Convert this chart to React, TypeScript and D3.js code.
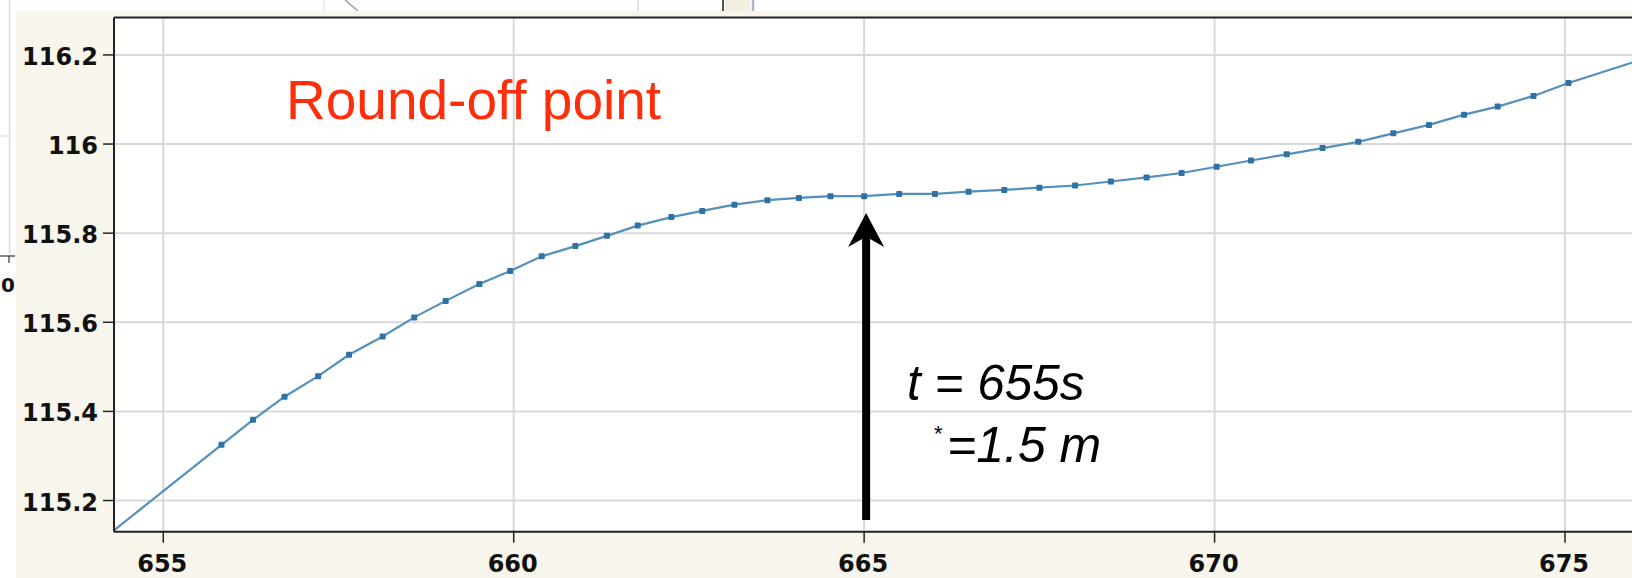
import React from 'react';
import * as d3 from 'd3';

// Water level series around the round-off point (time in s, level in m)
const TIME_S = [
  654.0, 655.83, 656.28, 656.73, 657.21, 657.65, 658.13, 658.58, 659.03, 659.51,
  659.95, 660.4, 660.88, 661.33, 661.77, 662.25, 662.69, 663.15, 663.62, 664.07,
  664.52, 665.0, 665.5, 666.01, 666.49, 667.0, 667.5, 668.01, 668.52, 669.03,
  669.53, 670.03, 670.52, 671.03, 671.54, 672.05, 672.55, 673.06, 673.56, 674.04,
  674.55, 675.05, 676.1,
];
const LEVEL_M = [
  115.096, 115.325, 115.381, 115.433, 115.479, 115.527, 115.568, 115.611, 115.648, 115.686,
  115.715, 115.748, 115.771, 115.794, 115.817, 115.836, 115.85, 115.864, 115.874, 115.879,
  115.883, 115.883, 115.888, 115.888, 115.893, 115.897, 115.902, 115.907, 115.916, 115.925,
  115.935, 115.949, 115.963, 115.977, 115.991, 116.005, 116.024, 116.043, 116.066, 116.084,
  116.108, 116.137, 116.19,
];

const X_TICKS = [655, 660, 665, 670, 675];
const Y_TICKS = [115.2, 115.4, 115.6, 115.8, 116.0, 116.2];
const X_DOMAIN = [654.297, 675.956];
const Y_DOMAIN = [115.13, 116.284];

const TITLE = 'Round-off point';
const NOTE_TIME = 't = 655s';
const NOTE_DEPTH = '=1.5 m';
const ROUND_OFF_T = 665;

const W = 1632;
const H = 578;
const PLOT = { left: 114, top: 17.5, right: 1632, bottom: 531.7 };

const BEIGE = '#f8f6ec';
const GRID = '#d9d9d9';
const LINE = '#5590bb';
const MARKER = '#2f72a3';
const TICK_FONT = '"DejaVu Sans", sans-serif';
const NOTE_FONT = '"Liberation Sans", Arial, Helvetica, sans-serif';

const fmt = (v: number) => String(+v.toFixed(1));

export default function App() {
  const x = d3.scaleLinear().domain(X_DOMAIN).range([PLOT.left, PLOT.right]);
  const y = d3.scaleLinear().domain(Y_DOMAIN).range([PLOT.bottom, PLOT.top]);

  const points = TIME_S.map((t, i) => ({ t, v: LEVEL_M[i] }));
  const linePath = d3
    .line<{ t: number; v: number }>()
    .x((d) => x(d.t))
    .y((d) => y(d.v))(points) as string;

  const visible = points.filter((d) => d.t >= X_DOMAIN[0] && d.t <= X_DOMAIN[1]);

  // annotation arrow under the round-off sample
  const ax = x(ROUND_OFF_T) + 2;
  const tipY = 213;
  const baseY = 520;
  const arrow = [
    `M${ax},${tipY}`,
    `L${ax + 18},${tipY + 34}`,
    `L${ax + 4},${tipY + 26}`,
    `L${ax + 4},${baseY}`,
    `L${ax - 4},${baseY}`,
    `L${ax - 4},${tipY + 26}`,
    `L${ax - 18},${tipY + 34}`,
    'Z',
  ].join(' ');

  return (
    <svg
      width={W}
      height={H}
      viewBox={`0 0 ${W} ${H}`}
      style={{ position: 'absolute', left: 0, top: 0, display: 'block' }}
    >
      <defs>
        <clipPath id="plot-clip">
          <rect x={PLOT.left} y={PLOT.top} width={PLOT.right - PLOT.left} height={PLOT.bottom - PLOT.top} />
        </clipPath>
      </defs>

      {/* window surroundings */}
      <rect x={0} y={0} width={W} height={H} fill="#ffffff" />
      <line x1={9.5} y1={0} x2={9.5} y2={256} stroke="#dcdce6" strokeWidth={1.5} />
      <line x1={0} y1={136} x2={9} y2={136} stroke="#e2e2e2" strokeWidth={1.5} />
      <line x1={0} y1={256} x2={15} y2={256} stroke="#333" strokeWidth={1.2} />
      <line x1={9} y1={256} x2={9} y2={263} stroke="#333" strokeWidth={1.2} />
      <text x={15} y={292} textAnchor="end" fontFamily={TICK_FONT} fontWeight="bold" fontSize={20} fill="#111">
        0
      </text>
      <line x1={324} y1={0} x2={324} y2={11} stroke="#e6e6e6" strokeWidth={1.5} />
      <line x1={345} y1={0} x2={358} y2={11} stroke="#9a9aae" strokeWidth={1.5} />
      <line x1={638} y1={0} x2={638} y2={11} stroke="#dddddd" strokeWidth={1.5} />
      <line x1={723} y1={0} x2={723} y2={11} stroke="#555" strokeWidth={2} />
      <rect x={725} y={0} width={25} height={11} fill="#f3efe0" />
      <line x1={753} y1={0} x2={753} y2={11} stroke="#a8b6cc" strokeWidth={2.5} />

      {/* chart panel */}
      <rect x={16} y={11} width={W - 16} height={H - 11} fill={BEIGE} />
      <rect x={PLOT.left} y={PLOT.top} width={PLOT.right - PLOT.left} height={PLOT.bottom - PLOT.top} fill="#fff" />

      {/* grid */}
      {X_TICKS.map((t) => (
        <line key={`gx${t}`} x1={x(t)} x2={x(t)} y1={PLOT.top} y2={PLOT.bottom} stroke={GRID} strokeWidth={2} />
      ))}
      {Y_TICKS.map((v) => (
        <line key={`gy${v}`} x1={PLOT.left} x2={PLOT.right} y1={y(v)} y2={y(v)} stroke={GRID} strokeWidth={2} />
      ))}

      {/* series */}
      <g clipPath="url(#plot-clip)">
        <path d={linePath} fill="none" stroke={LINE} strokeWidth={2.2} />
        {visible.map((d, i) => (
          <rect key={i} x={x(d.t) - 3} y={y(d.v) - 3} width={6} height={6} rx={1} fill={MARKER} />
        ))}
      </g>

      {/* frame */}
      <line x1={PLOT.left} x2={PLOT.right} y1={PLOT.top} y2={PLOT.top} stroke="#222" strokeWidth={2} />
      <line x1={PLOT.left} x2={PLOT.left} y1={PLOT.top} y2={PLOT.bottom} stroke="#222" strokeWidth={2} />
      <line x1={PLOT.left} x2={PLOT.right} y1={PLOT.bottom} y2={PLOT.bottom} stroke="#222" strokeWidth={2} />

      {/* y axis */}
      {Y_TICKS.map((v) => (
        <g key={`ty${v}`}>
          <line x1={103} x2={PLOT.left} y1={y(v)} y2={y(v)} stroke="#222" strokeWidth={1.5} />
          <text
            x={98}
            y={y(v) + 10}
            textAnchor="end"
            fontFamily={TICK_FONT}
            fontWeight="bold"
            fontSize={24}
            fill="#111"
          >
            {fmt(v)}
          </text>
        </g>
      ))}

      {/* x axis */}
      {X_TICKS.map((t) => (
        <g key={`tx${t}`}>
          <line x1={x(t)} x2={x(t)} y1={PLOT.bottom} y2={PLOT.bottom + 11} stroke="#222" strokeWidth={1.5} />
          <text
            x={x(t) - 1}
            y={572}
            textAnchor="middle"
            fontFamily={TICK_FONT}
            fontWeight="bold"
            fontSize={24}
            fill="#111"
          >
            {fmt(t)}
          </text>
        </g>
      ))}

      {/* annotations */}
      <text x={286} y={119} fontFamily={NOTE_FONT} fontSize={55} fill="#ff2d0a">
        {TITLE}
      </text>
      <path d={arrow} fill="#000" />
      <text x={907} y={400} fontFamily={NOTE_FONT} fontStyle="italic" fontSize={49.5} fill="#000">
        {NOTE_TIME}
      </text>
      <text x={934} y={441} fontFamily={NOTE_FONT} fontSize={22} fill="#000">
        *
      </text>
      <text x={947} y={462} fontFamily={NOTE_FONT} fontStyle="italic" fontSize={50} fill="#000">
        {NOTE_DEPTH}
      </text>
    </svg>
  );
}
